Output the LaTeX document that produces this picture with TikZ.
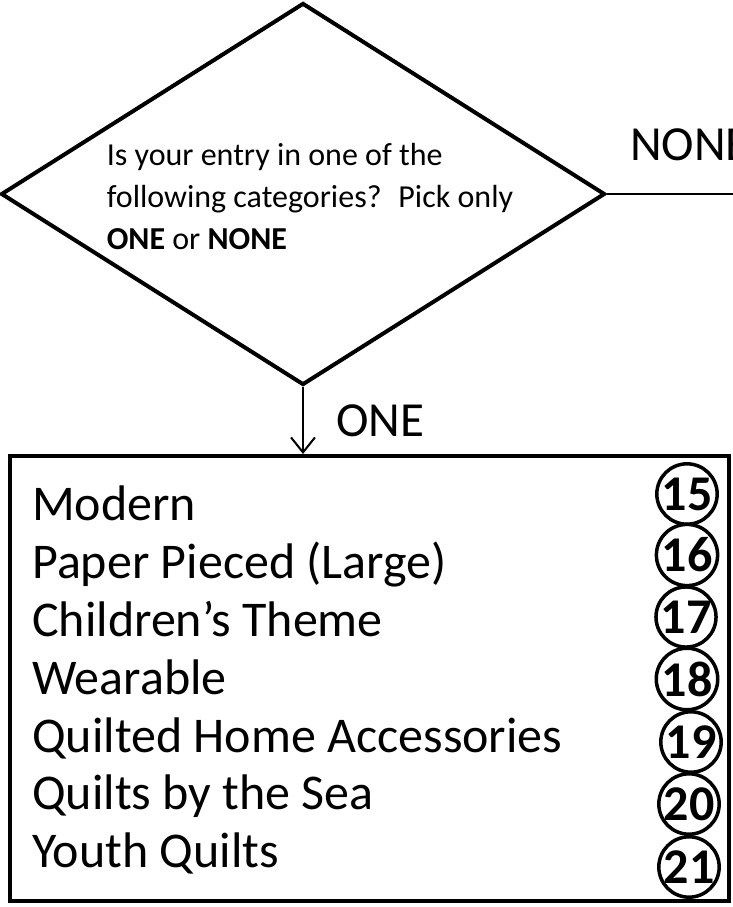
\documentclass[tikz,border=0pt]{standalone}
\usepackage{fontspec}
\setmainfont{Carlito}
\usetikzlibrary{shapes.geometric,arrows.meta,positioning}

\begin{document}
\begin{tikzpicture}[x=1pt, y=-1pt, >={Straight Barb[length=15pt,width=24pt]}]
        \tikzstyle{decision}=[draw, diamond, line width=4pt, minimum width=604pt, minimum height=382pt, inner sep=0pt];
        \tikzstyle{catbox}=[draw, rectangle, line width=4pt, minimum width=719pt, minimum height=445pt, inner sep=0pt];
        \tikzstyle{entry}=[anchor=base west, inner sep=0pt, font=\fontsize{50}{60}\selectfont];
        \tikzstyle{num}=[draw, circle, line width=3.5pt, minimum size=60pt, inner sep=0pt, font=\fontsize{50}{50}\selectfont\bfseries];
        \tikzstyle{answer}=[anchor=base west, inner sep=0pt, font=\fontsize{49}{49}\selectfont];

        \useasboundingbox (0,0) rectangle (732,907);

        \node[decision] (ask) at (303,194) {};
        \node[align=left, font=\fontsize{32}{42}\selectfont, xshift=7pt, yshift=-2pt] (asktext) at (ask.center)
            {Is your entry in one of the\\following categories?~ Pick only\\\textbf{ONE} or \textbf{NONE}};
        \node[catbox] (cats) at (369.5,678.5) {};

        \coordinate (offpage) at (780,194);
        \draw[line width=2pt] (ask.east) -- (offpage);
        \node[answer] (none) at (630,160) {NONE};

        \draw[->, line width=2pt] (ask.south) -- (ask.south |- cats.north);
        \node[answer] (one) at (336,436) {ONE};

        \foreach \t [count=\i] in {Modern, Paper Pieced (Large), Children’s Theme, Wearable,
                Quilted Home Accessories, Quilts by the Sea, Youth Quilts}
            \node[entry] (item\i) at (32,463+57.8*\i) {\t};

        \foreach \n/\cx/\cy in {15/687/494, 16/687/555, 17/686/617, 18/687/679,
                19/691/742, 20/689/804, 21/689/867}
            \node[num] (cat\n) at (\cx,\cy) {\n};
    \end{tikzpicture}
\end{document}
